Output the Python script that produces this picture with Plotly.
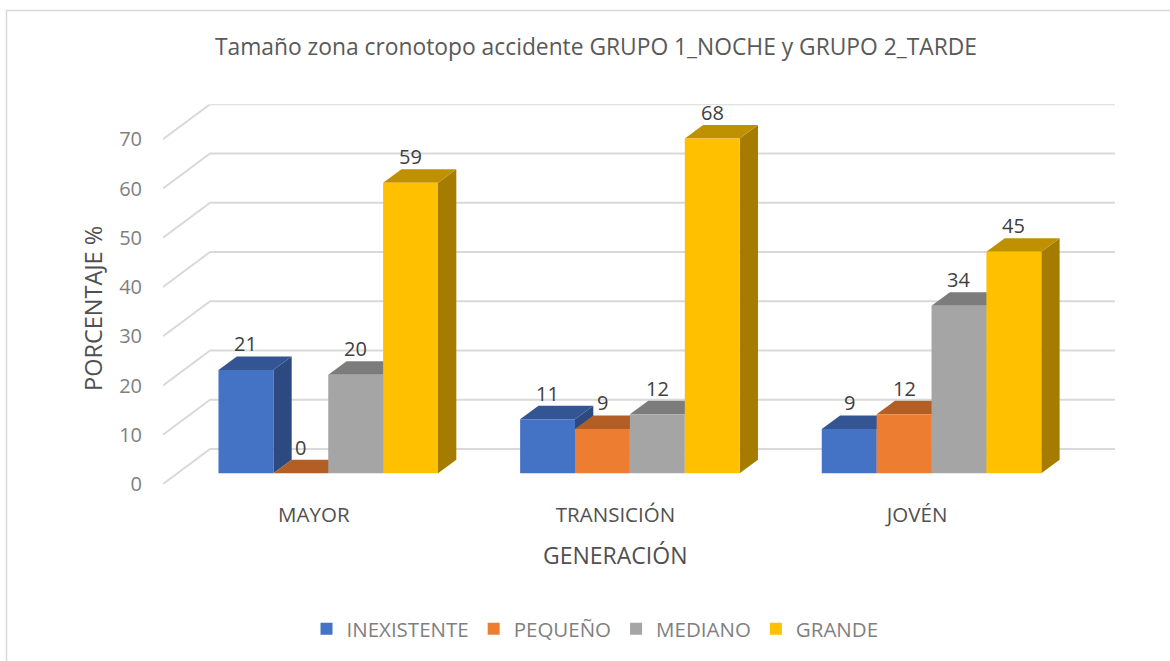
"""Tamaño zona cronotopo: 3D-look grouped columns drawn on sheared overlay axes."""

import plotly.graph_objects as go

# data
CATEGORIES = ["MAYOR", "TRANSICIÓN", "JOVÉN"]
CATEGORY_POS = [0, 1, 2]
SERIES_NAMES = ["INEXISTENTE", "PEQUEÑO", "MEDIANO", "GRANDE"]
INEXISTENTE = [21, 11, 9]
PEQUENO = [0, 9, 12]
MEDIANO = [20, 12, 34]
GRANDE = [59, 68, 45]
Y_TICKS = [0, 10, 20, 30, 40, 50, 60, 70]

SERIES = [INEXISTENTE, PEQUENO, MEDIANO, GRANDE]

# colours: front, top and side face of each series
FRONT = ["#4472C4", "#ED7D31", "#A5A5A5", "#FFC000"]
TOP = ["#335593", "#B25E25", "#7C7C7C", "#BF9000"]
SIDE = ["#2C4A80", "#9A5120", "#6B6B6B", "#A67C00"]
GRID = "#D9D9D9"
FONT = "Open Sans"

# geometry, in pixels of the 1170x661 page
WIDTH, HEIGHT = 1170, 661
LEFT, RIGHT = 163, 1115
BOTTOM, TOP_PX = 484, 104.3
CAT_PX = 301.2
VAL_PX = 4.925
WALL_DX, WALL_DY = 47, 35
BAR_DX, BAR_DY = 14.4, 10.7
FACE_DX, FACE_DY = 18.3, 13.5
BAR_W = 54.8 / CAT_PX

# same shear, in axis units
wall_x, wall_y = WALL_DX / CAT_PX, WALL_DY / VAL_PX
bar_x, bar_y = BAR_DX / CAT_PX, BAR_DY / VAL_PX
face_x, face_y = FACE_DX / CAT_PX, FACE_DY / VAL_PX

fig = go.Figure()

# floor-to-wall gridlines
grid_x, grid_y = [], []
for tick in Y_TICKS:
    grid_x += [-0.5, -0.5 + wall_x, 2.5 + wall_x, None]
    grid_y += [tick, tick + wall_y, tick + wall_y, None]
fig.add_trace(
    go.Scatter(
        x=grid_x,
        y=grid_y,
        mode="lines",
        line=dict(color=GRID, width=2),
        hoverinfo="skip",
        showlegend=False,
    )
)

# top and side faces, left to right, under the front faces
for idx, values in enumerate(SERIES):
    for pos, value in zip(CATEGORY_POS, values):
        x0 = pos + (idx - 2) * BAR_W + bar_x
        x1 = x0 + BAR_W
        v0 = bar_y
        v1 = value + bar_y
        fig.add_trace(
            go.Scatter(
                x=[x1, x1 + face_x, x1 + face_x, x1, x1],
                y=[v0, v0 + face_y, v1 + face_y, v1, v0],
                mode="lines",
                fill="toself",
                fillcolor=SIDE[idx],
                line=dict(width=0),
                hoverinfo="skip",
                showlegend=False,
            )
        )
        fig.add_trace(
            go.Scatter(
                x=[x0, x1, x1 + face_x, x0 + face_x, x0],
                y=[v1, v1, v1 + face_y, v1 + face_y, v1],
                mode="lines",
                fill="toself",
                fillcolor=TOP[idx],
                line=dict(width=0),
                hoverinfo="skip",
                showlegend=False,
            )
        )

# front faces
for idx, values in enumerate(SERIES):
    fig.add_trace(
        go.Bar(
            x=CATEGORY_POS,
            y=values,
            name=SERIES_NAMES[idx],
            marker=dict(color=FRONT[idx], line=dict(width=0)),
            xaxis="x2",
            yaxis="y2",
        )
    )

# data labels
for idx, values in enumerate(SERIES):
    for pos, value in zip(CATEGORY_POS, values):
        fig.add_annotation(
            x=pos + (idx - 1.5) * BAR_W,
            y=value,
            xref="x2",
            yref="y2",
            text=str(value),
            showarrow=False,
            yanchor="middle",
            yshift=26,
            font=dict(family=FONT, size=20, color="#404040"),
        )

# axis titles sit on the front plane, not on the middle of the full axis
fig.add_annotation(
    x=CATEGORY_POS[1],
    y=1 - 555 / HEIGHT,
    xref="x",
    yref="paper",
    xanchor="center",
    yanchor="middle",
    text="GENERACIÓN",
    showarrow=False,
    font=dict(family=FONT, size=23, color="#505050"),
)
fig.add_annotation(
    x=93 / WIDTH,
    y=1 - 309 / HEIGHT,
    xref="paper",
    yref="paper",
    xanchor="center",
    yanchor="middle",
    text="PORCENTAJE %",
    textangle=-90,
    showarrow=False,
    font=dict(family=FONT, size=23.5, color="#505050"),
)

x_range = [-0.5, 2.5 + wall_x]
y_top = (BOTTOM - TOP_PX) / VAL_PX

fig.update_layout(
    width=WIDTH,
    height=HEIGHT,
    margin=dict(l=0, r=0, t=0, b=0, autoexpand=False),
    paper_bgcolor="white",
    plot_bgcolor="rgba(0,0,0,0)",
    barmode="group",
    bargap=1 - 4 * BAR_W,
    bargroupgap=0,
    font=dict(family=FONT, color="#595959"),
    title=dict(
        text="Tamaño zona cronotopo accidente GRUPO 1_NOCHE y GRUPO 2_TARDE",
        x=596 / WIDTH,
        xanchor="center",
        y=1 - 47 / HEIGHT,
        yanchor="middle",
        font=dict(family=FONT, size=22.8, color="#595959"),
    ),
    xaxis=dict(
        domain=[LEFT / WIDTH, RIGHT / WIDTH],
        range=x_range,
        tickvals=CATEGORY_POS,
        ticktext=CATEGORIES,
        showgrid=False,
        zeroline=False,
        showline=False,
        ticks="",
        automargin=False,
        ticklabelstandoff=16,
        tickfont=dict(family=FONT, size=20.5, color="#505050"),
    ),
    yaxis=dict(
        domain=[1 - BOTTOM / HEIGHT, 1 - TOP_PX / HEIGHT],
        range=[0, y_top],
        tickvals=Y_TICKS,
        showgrid=False,
        zeroline=False,
        showline=False,
        ticks="",
        automargin=False,
        ticklabelstandoff=20,
        tickfont=dict(family=FONT, size=20, color="#7F7F7F"),
    ),
    # overlays take the main axes' domain, so the bar plane is shifted by range
    xaxis2=dict(
        range=[x_range[0] - bar_x, x_range[1] - bar_x],
        overlaying="x",
        anchor="y2",
        visible=False,
    ),
    yaxis2=dict(
        range=[-bar_y, y_top - bar_y],
        overlaying="y",
        anchor="x2",
        visible=False,
    ),
    legend=dict(
        orientation="h",
        x=595 / WIDTH,
        xanchor="center",
        y=1 - 629 / HEIGHT,
        yanchor="middle",
        font=dict(family=FONT, size=20.5, color="#7F7F7F"),
    ),
    shapes=[
        dict(
            type="rect",
            xref="paper",
            yref="paper",
            x0=6.5 / WIDTH,
            x1=(WIDTH + 5) / WIDTH,
            y0=-5 / HEIGHT,
            y1=1 - 10.5 / HEIGHT,
            line=dict(color=GRID, width=1.5),
        )
    ],
)

fig.write_html(
    "out.html",
    config={"displayModeBar": False},
    post_script="document.body.style.margin = '0';",
)
